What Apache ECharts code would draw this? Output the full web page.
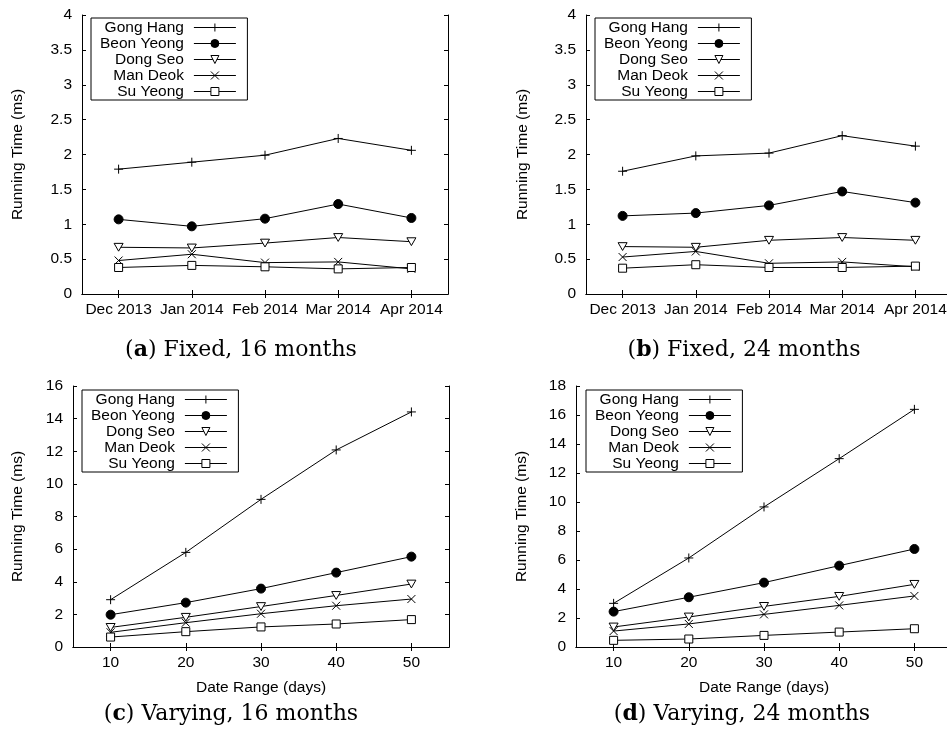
<!DOCTYPE html>
<html>
<head>
<meta charset="utf-8">
<script src="https://cdn.jsdelivr.net/npm/echarts@6/dist/echarts.min.js"></script>
<style>
  html, body { margin: 0; padding: 0; background: #fff; }
  #chart { width: 947px; height: 738px; }
</style>
</head>
<body>
<div id="chart"></div>
<script>
// ---------------- DATA ----------------
const months = ['Dec 2013', 'Jan 2014', 'Feb 2014', 'Mar 2014', 'Apr 2014'];
const days = ['10', '20', '30', '40', '50'];
const seriesNames = ['Gong Hang', 'Beon Yeong', 'Dong Seo', 'Man Deok', 'Su Yeong'];

// (a) Fixed, 16 months
const fixed16GongHang  = [1.79, 1.89, 1.99, 2.23, 2.06];
const fixed16BeonYeong = [1.07, 0.97, 1.08, 1.29, 1.09];
const fixed16DongSeo   = [0.67, 0.66, 0.73, 0.81, 0.75];
const fixed16ManDeok   = [0.48, 0.57, 0.45, 0.46, 0.36];
const fixed16SuYeong   = [0.38, 0.41, 0.39, 0.36, 0.38];

// (b) Fixed, 24 months
const fixed24GongHang  = [1.76, 1.98, 2.02, 2.27, 2.12];
const fixed24BeonYeong = [1.12, 1.16, 1.27, 1.47, 1.31];
const fixed24DongSeo   = [0.68, 0.67, 0.77, 0.81, 0.77];
const fixed24ManDeok   = [0.53, 0.61, 0.44, 0.46, 0.39];
const fixed24SuYeong   = [0.37, 0.42, 0.38, 0.38, 0.40];

// (c) Varying, 16 months
const vary16GongHang  = [2.90, 5.80, 9.05, 12.08, 14.41];
const vary16BeonYeong = [1.98, 2.72, 3.58, 4.56, 5.54];
const vary16DongSeo   = [1.20, 1.82, 2.48, 3.16, 3.86];
const vary16ManDeok   = [0.90, 1.49, 2.04, 2.53, 2.94];
const vary16SuYeong   = [0.61, 0.94, 1.23, 1.41, 1.68];

// (d) Varying, 24 months
const vary24GongHang  = [3.01, 6.14, 9.66, 12.99, 16.39];
const vary24BeonYeong = [2.44, 3.43, 4.44, 5.61, 6.76];
const vary24DongSeo   = [1.38, 2.07, 2.80, 3.49, 4.32];
const vary24ManDeok   = [1.10, 1.59, 2.25, 2.87, 3.52];
const vary24SuYeong   = [0.46, 0.55, 0.80, 1.03, 1.26];

const yMaxes = [4, 4, 16, 18];
const yIntervals = [0.5, 0.5, 2, 2];
const yAxisName = 'Running Time (ms)';
const xAxisNameVarying = 'Date Range (days)';
const captionLetters = ['a', 'b', 'c', 'd'];
const captionTexts = [' Fixed, 16 months', ' Fixed, 24 months', ' Varying, 16 months', ' Varying, 24 months'];

// ---------------- STYLE / LAYOUT ----------------
const FONT = 'Liberation Sans';
const FS = 15.5;
const SERIF = 'DejaVu Serif';
const panels = [
  { grid: { left: 82, top: 15, width: 366, height: 279 }, cats: months, xName: '', nameGap: 56, rightAxis: true,
    legend: { left: 91, top: 18 }, caption: { x: 241, y: 350 },
    data: [fixed16GongHang, fixed16BeonYeong, fixed16DongSeo, fixed16ManDeok, fixed16SuYeong] },
  { grid: { left: 586, top: 15, width: 366, height: 279 }, cats: months, xName: '', nameGap: 55, rightAxis: false,
    legend: { left: 595, top: 18 }, caption: { x: 744, y: 350 },
    data: [fixed24GongHang, fixed24BeonYeong, fixed24DongSeo, fixed24ManDeok, fixed24SuYeong] },
  { grid: { left: 73, top: 386, width: 376, height: 261 }, cats: days, xName: xAxisNameVarying, nameGap: 47, rightAxis: true,
    legend: { left: 82, top: 390 }, caption: { x: 231, y: 714 },
    data: [vary16GongHang, vary16BeonYeong, vary16DongSeo, vary16ManDeok, vary16SuYeong] },
  { grid: { left: 576, top: 386, width: 376, height: 261 }, cats: days, xName: xAxisNameVarying, nameGap: 46, rightAxis: false,
    legend: { left: 586, top: 390 }, caption: { x: 742, y: 714 },
    data: [vary24GongHang, vary24BeonYeong, vary24DongSeo, vary24ManDeok, vary24SuYeong] }
];

const markers = [
  { symbol: 'path://M0,5L10,5M5,0L5,10', size: 9, fill: '#000' },
  { symbol: 'circle', size: 9, fill: '#000' },
  { symbol: 'path://M0,0L10,0L5,8.66Z', size: 9, fill: '#fff' },
  { symbol: 'path://M0,0L10,10M10,0L0,10', size: 8, fill: '#000' },
  { symbol: 'path://M0,0L10,0L10,10L0,10Z', size: 8, fill: '#fff' }
];

const lineBlack = { color: '#000', width: 1 };
const grids = [], xAxes = [], yAxes = [], series = [], legends = [], graphics = [];

panels.forEach((p, i) => {
  grids.push(Object.assign({ containLabel: false, outerBoundsMode: 'none' }, p.grid));
  const tick = { show: true, inside: true, length: 4, alignWithLabel: true, lineStyle: lineBlack };
  xAxes.push({
    type: 'category', gridIndex: i, data: p.cats, boundaryGap: true, position: 'bottom',
    axisLine: { show: true, lineStyle: lineBlack },
    axisTick: tick,
    axisLabel: { interval: 0, color: '#000', fontFamily: FONT, fontSize: FS, margin: 8, hideOverlap: false },
    splitLine: { show: false },
    name: p.xName, nameLocation: 'middle', nameGap: 33,
    nameTextStyle: { color: '#000', fontFamily: FONT, fontSize: FS }
  });
  xAxes.push({
    type: 'category', gridIndex: i, data: p.cats, boundaryGap: true, position: 'top',
    axisLine: { show: true, lineStyle: lineBlack },
    axisTick: tick, axisLabel: { show: false }, splitLine: { show: false }
  });
  yAxes.push({
    type: 'value', gridIndex: i, min: 0, max: yMaxes[i], interval: yIntervals[i], position: 'left',
    axisLine: { show: true, lineStyle: lineBlack },
    axisTick: { show: true, inside: true, length: 4, lineStyle: lineBlack },
    axisLabel: { color: '#000', fontFamily: FONT, fontSize: FS, margin: 10 },
    splitLine: { show: false },
    name: yAxisName, nameLocation: 'middle', nameGap: p.nameGap, nameRotate: 90,
    nameTextStyle: { color: '#000', fontFamily: FONT, fontSize: FS }
  });
  yAxes.push({
    type: 'value', gridIndex: i, min: 0, max: yMaxes[i], interval: yIntervals[i], position: 'right',
    show: p.rightAxis,
    axisLine: { show: true, lineStyle: lineBlack },
    axisTick: { show: true, inside: true, length: 4, lineStyle: lineBlack },
    axisLabel: { show: false }, splitLine: { show: false }
  });
  seriesNames.forEach((name, k) => {
    series.push({
      type: 'line', name: name, xAxisIndex: 2 * i, yAxisIndex: 2 * i,
      data: p.data[k],
      symbol: markers[k].symbol, symbolSize: markers[k].size, symbolKeepAspect: true,
      showSymbol: true, showAllSymbol: true,
      lineStyle: { color: '#000', width: 1 },
      itemStyle: { color: markers[k].fill, borderColor: '#000', borderWidth: 1 },
      emphasis: { disabled: true }, silent: true, animation: false, clip: false
    });
  });
  legends.push({
    orient: 'vertical', align: 'right', left: p.legend.left, top: p.legend.top,
    itemWidth: 42, itemHeight: 10, itemGap: 0,
    padding: [1.5, 11, 0.5, 9],
    borderColor: '#000', borderWidth: 1, borderRadius: 0, backgroundColor: '#fff',
    selectedMode: false,
    textStyle: { color: '#000', fontFamily: FONT, fontSize: FS, lineHeight: 15.4, padding: [0, 5, 0, 0] },
    itemStyle: { borderWidth: 1, borderColor: '#000' },
    lineStyle: { width: 1, color: '#000' },
    data: seriesNames
  });
  graphics.push({
    type: 'text', x: p.caption.x, y: p.caption.y, silent: true,
    style: {
      text: '({b|' + captionLetters[i] + '})' + captionTexts[i],
      rich: { b: { fontWeight: 'bold', fontFamily: SERIF, fontSize: 22, fill: '#000' } },
      fontFamily: SERIF, fontSize: 22, fill: '#000',
      textAlign: 'center', textVerticalAlign: 'middle', align: 'center', verticalAlign: 'middle'
    }
  });
});

const chart = echarts.init(document.getElementById('chart'), null, { renderer: 'canvas' });
chart.setOption({
  backgroundColor: '#fff',
  animation: false,
  grid: grids,
  xAxis: xAxes,
  yAxis: yAxes,
  legend: legends,
  series: series,
  graphic: graphics
});
</script>
</body>
</html>
